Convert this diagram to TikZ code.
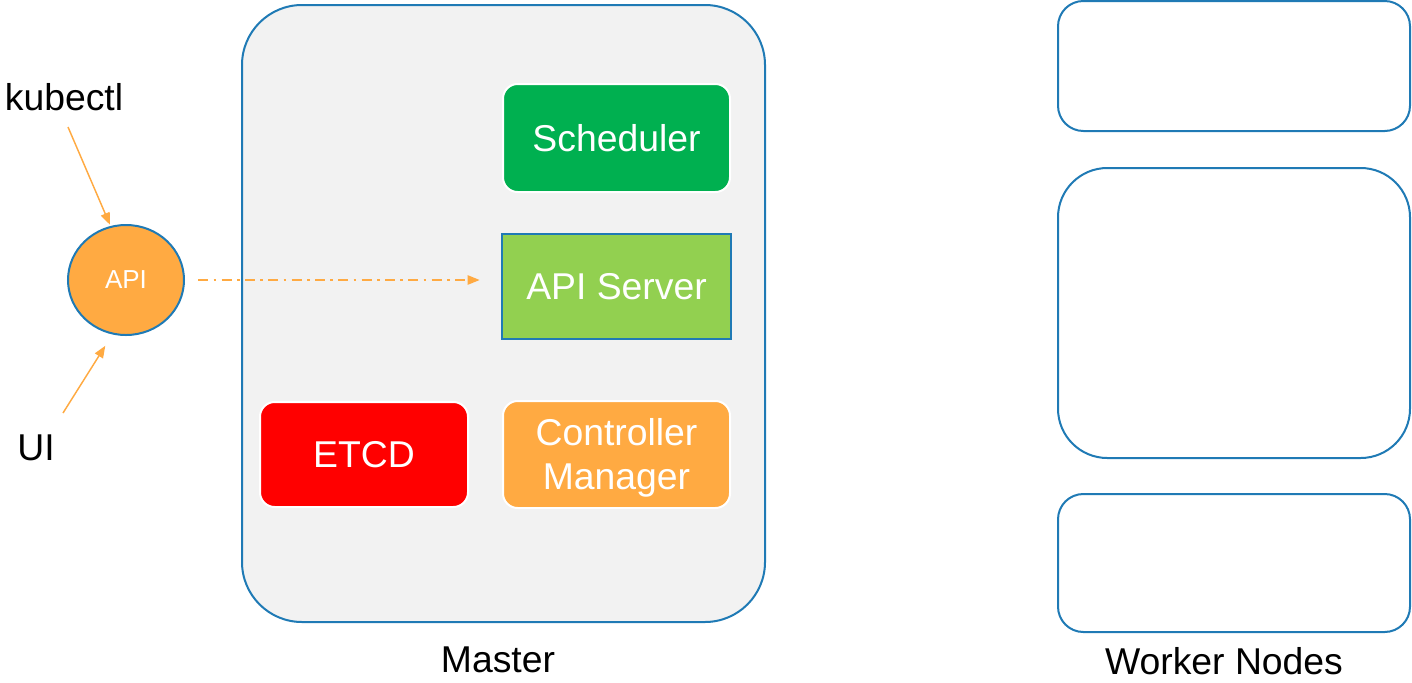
\documentclass[tikz,border=0pt]{standalone}
\usepackage{fontspec}
\setmainfont{Liberation Sans}
\usetikzlibrary{shapes.geometric,arrows.meta}

\definecolor{frameblue}{RGB}{31,122,181}
\definecolor{paneback}{RGB}{242,242,242}
\definecolor{schedgreen}{RGB}{0,176,80}
\definecolor{apigreen}{RGB}{146,208,80}
\definecolor{etcdred}{RGB}{255,0,0}
\definecolor{ctrlorange}{RGB}{255,170,66}

\tikzset{
  biglabel/.style={font=\fontsize{28}{32}\selectfont, text=black, inner sep=0pt},
  comp/.style={font=\fontsize{28}{32}\selectfont, text=white, draw=white,
    line width=1.5pt, rounded corners=11pt, align=center, inner sep=0pt},
  workerbox/.style={draw=frameblue, line width=1.5pt, fill=white, inner sep=0pt},
  feed/.style={draw=ctrlorange, line width=1.1pt,
    -{Triangle[length=9pt,width=7pt]}},
}

\begin{document}
\begin{tikzpicture}[x=0.75pt,y=-0.75pt]
  \useasboundingbox (0,0) rectangle (1412,682);

  % master pane
  \node[draw=frameblue, fill=paneback, line width=1.5pt, rounded corners=45pt,
        minimum width=392.25pt, minimum height=462.75pt, inner sep=0pt]
        (master) at (503.5,313.5) {};
  \node[biglabel] (masterlbl) at (498,660) {Master};

  % control plane components
  \node[comp, fill=schedgreen, minimum width=170.25pt, minimum height=81pt]
        (sched) at (616.5,138) {Scheduler};
  \node[comp, fill=apigreen, draw=frameblue, rounded corners=0pt,
        minimum width=171.75pt, minimum height=78.75pt]
        (apisrv) at (616.5,286.5) {API Server};
  \node[comp, fill=etcdred, minimum width=156pt, minimum height=78.75pt]
        (etcd) at (364,454.5) {ETCD};
  \node[comp, fill=ctrlorange, minimum width=170.25pt, minimum height=80.25pt,
        font=\fontsize{28}{33}\selectfont]
        (ctrl) at (616.5,454.5) {};
  \node[text=white, font=\fontsize{28}{33}\selectfont, align=center, inner sep=0pt]
        (ctrltext) at (616.5,458) {Controller\\Manager};

  % clients
  \node[biglabel] (kubectl) at (64,97) {kubectl};
  \node[biglabel] (ui) at (36,448) {UI};
  \node[ellipse, draw=frameblue, fill=ctrlorange, line width=1.5pt,
        minimum width=87pt, minimum height=82.5pt, inner sep=0pt,
        text=white, font=\fontsize{19.5}{22}\selectfont]
        (api) at (126,280) {API};

  \coordinate (kfrom) at (68,127);
  \coordinate (ufrom) at (63,413);
  \draw[feed, shorten >=1pt] (kfrom) -- (api.106);
  \draw[feed, shorten >=10pt] (ufrom) -- (api.256);
  \draw[feed, dash pattern=on 7.5pt off 4pt on 2pt off 4pt,
        shorten <=10pt, shorten >=16pt] (api.east) -- (api.east -| apisrv.west);

  % worker nodes
  \node[workerbox, rounded corners=19pt, minimum width=264pt, minimum height=97.5pt]
        (w1) at (1234,66) {};
  \node[workerbox, rounded corners=37pt, minimum width=264pt, minimum height=217.5pt]
        (w2) at (1234,313) {};
  \node[workerbox, rounded corners=19pt, minimum width=264pt, minimum height=103.5pt]
        (w3) at (1234,563) {};
  \node[biglabel] (workerlbl) at (1224,661) {Worker Nodes};
\end{tikzpicture}
\end{document}
